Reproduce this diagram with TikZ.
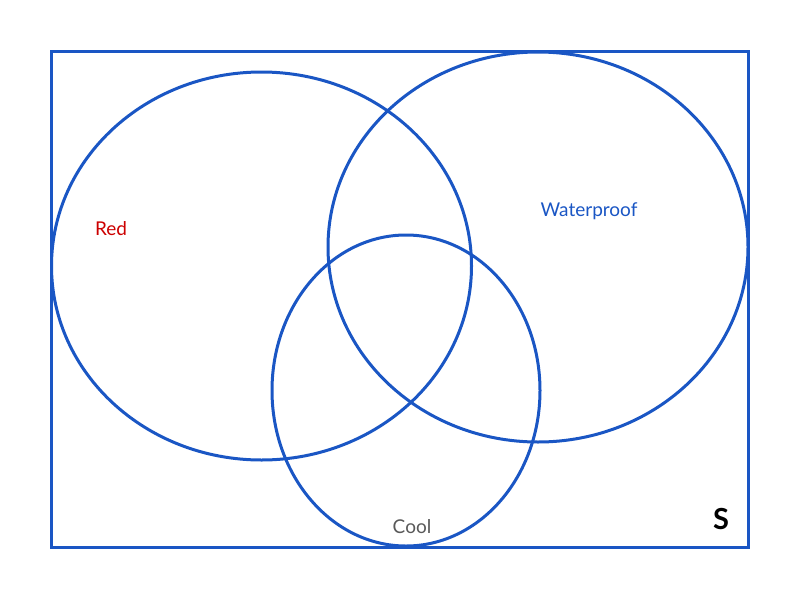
\documentclass[tikz,border=0pt]{standalone}
\usepackage{fontspec}
\setmainfont{Lato}
\usetikzlibrary{shapes.geometric}
\definecolor{vblue}{HTML}{1A56C4}
\definecolor{vred}{HTML}{CC0000}
\definecolor{vgray}{HTML}{595959}
\begin{document}
\begin{tikzpicture}[x=1pt,y=-1pt,
  setline/.style={draw=vblue,line width=3pt},
  lbl/.style={font=\fontsize{19}{23}\selectfont,inner sep=0pt}]
\useasboundingbox (0,0) rectangle (800,600);
\node[setline,draw,rectangle,minimum width=697pt,minimum height=496pt,inner sep=0pt] (S) at (399.5,299) {};
\node[setline,ellipse,minimum width=420pt,minimum height=388pt,inner sep=0pt] (red) at (261.5,266) {};
\node[setline,ellipse,minimum width=420pt,minimum height=390pt,inner sep=0pt] (wp) at (538,247) {};
\node[setline,ellipse,minimum width=268pt,minimum height=311pt,inner sep=0pt] (cool) at (406,390.5) {};
\node[lbl,text=vred] (tred) at (111,229) {Red};
\node[lbl,text=vblue] (twp) at (589,211) {Waterproof};
\node[lbl,text=vgray] (tcool) at (412,527) {Cool};
\node[inner sep=0pt,font=\fontsize{29}{34}\selectfont\bfseries] (ts) at (721,519) {S};
\end{tikzpicture}
\end{document}
